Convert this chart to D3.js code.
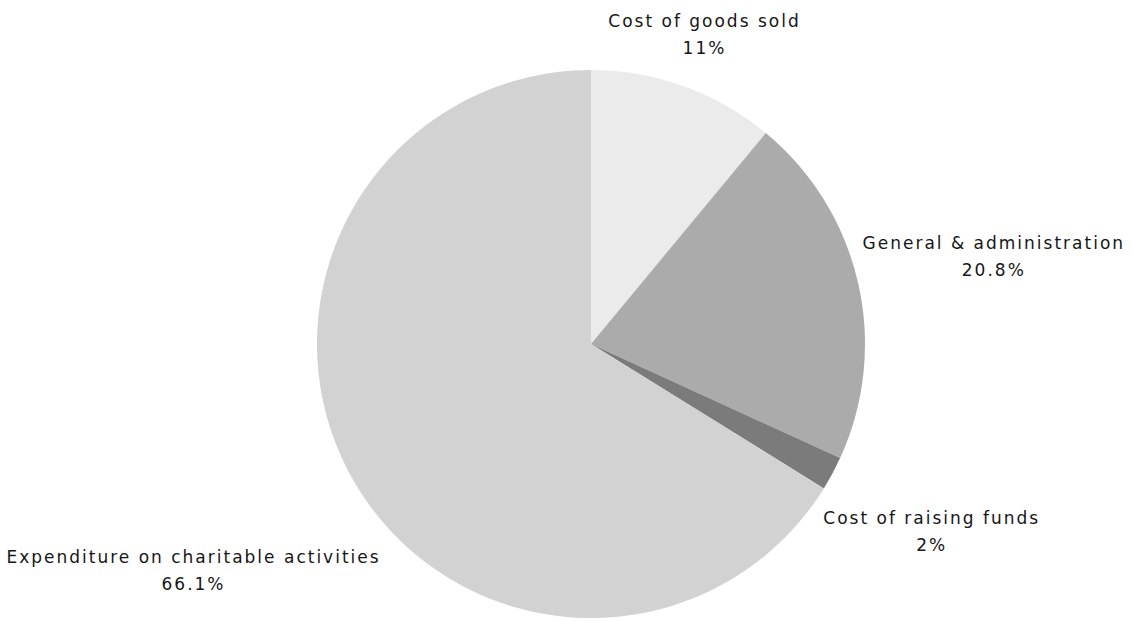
<!DOCTYPE html>
<html>
<head>
<meta charset="utf-8">
<script src="https://cdn.jsdelivr.net/npm/d3@7/dist/d3.min.js"></script>
<style>
  html, body { margin: 0; padding: 0; background: #ffffff; }
  svg { display: block; }
  text { font-family: "DejaVu Sans", "Open Sans", sans-serif; fill: #161616; letter-spacing: 2px; }
</style>
</head>
<body>
<svg id="chart" width="1134" height="622"></svg>
<script>
// Expenditure breakdown (share of total, %)
const categories = [
  "Cost of goods sold",
  "General & administration",
  "Cost of raising funds",
  "Expenditure on charitable activities"
];
const values = [11, 20.8, 2, 66.1];
const valueLabels = ["11%", "20.8%", "2%", "66.1%"];
const sliceColors = ["#ebebeb", "#ababab", "#7b7b7b", "#d2d2d2"];

const width = 1134, height = 622;
const cx = 591, cy = 344, radius = 274;
const labelGap = 6, labelShiftY = 5;
const fontSize = 17, lineStep = 27;

const svg = d3.select("#chart");
const g = svg.append("g").attr("transform", `translate(${cx},${cy})`);

const data = categories.map((c, i) => ({ name: c, value: values[i], label: valueLabels[i], color: sliceColors[i] }));

const pie = d3.pie().sort(null).value(d => d.value);
const arc = d3.arc().innerRadius(0).outerRadius(radius);
const arcs = pie(data);

g.selectAll("path.slice")
  .data(arcs)
  .join("path")
  .attr("class", "slice")
  .attr("d", arc)
  .attr("fill", d => d.data.color);

// Two-line labels placed outside the pie along each slice's mid-angle,
// pushed out far enough that the whole text block clears the rim.
const labels = g.selectAll("g.label")
  .data(arcs)
  .join("g")
  .attr("class", "label");

labels.append("text")
  .attr("class", "name")
  .attr("text-anchor", "middle")
  .attr("font-size", fontSize)
  .text(d => d.data.name);

labels.append("text")
  .attr("class", "pct")
  .attr("text-anchor", "middle")
  .attr("font-size", fontSize)
  .attr("y", lineStep)
  .text(d => d.data.label);

labels.each(function(d) {
  const grp = d3.select(this);
  const bb = this.getBBox();
  const halfW = bb.width / 2, halfH = bb.height / 2;
  const midY = bb.y + halfH;
  const a = (d.startAngle + d.endAngle) / 2;
  const sx = Math.sin(a), sy = -Math.cos(a);
  const reach = radius + labelGap + Math.abs(halfW * sx) + Math.abs(halfH * sy);
  const x = reach * sx;
  const y = reach * sy - midY + labelShiftY;
  grp.attr("transform", `translate(${x},${y})`);
});
</script>
</body>
</html>
